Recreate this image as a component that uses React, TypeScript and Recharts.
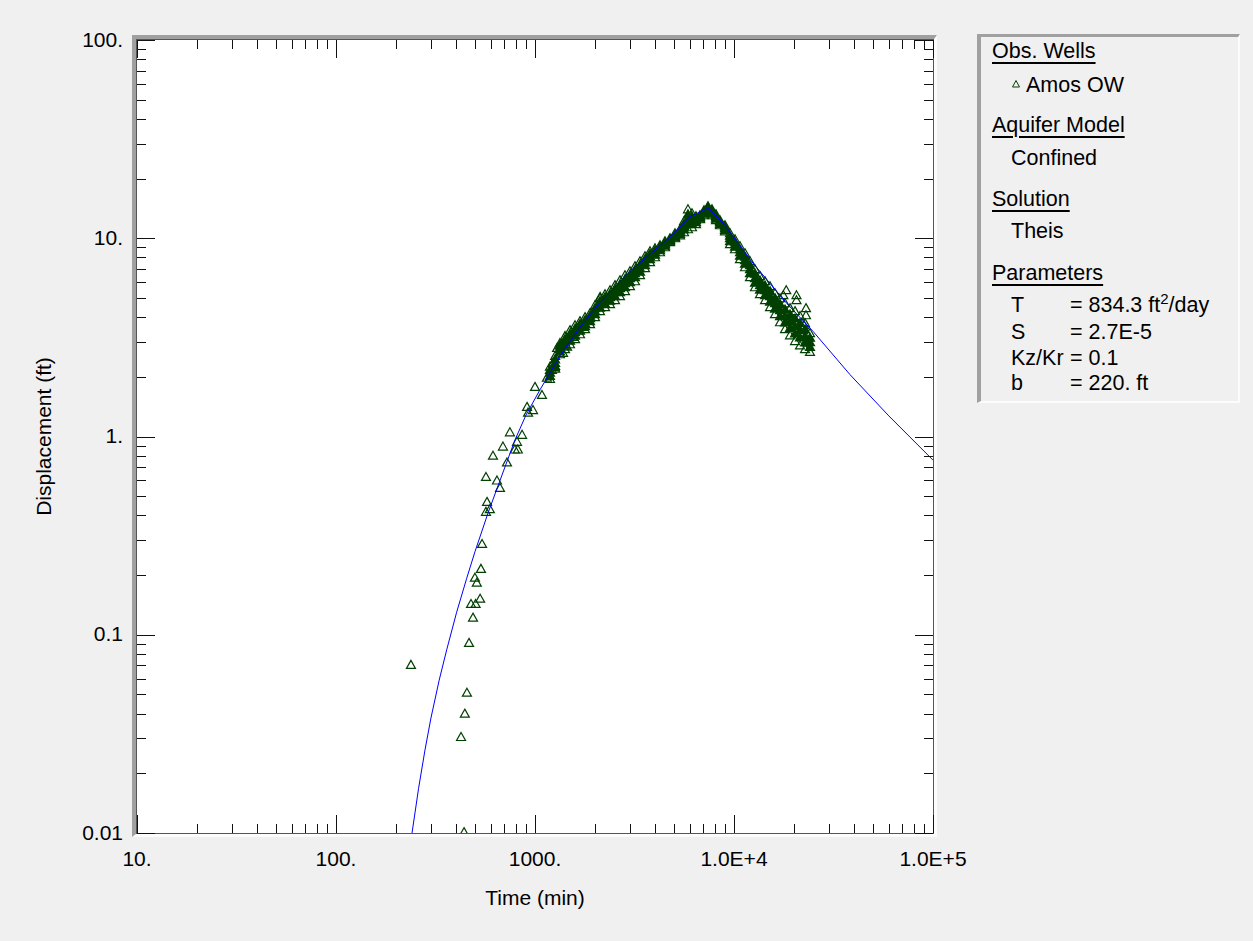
import React from 'react';
import { ScatterChart, Scatter, XAxis, YAxis } from 'recharts';

// axis ticks
const xMajorTicks = [10, 100, 1000, 10000, 100000];
const xTickLabels = ['10.', '100.', '1000.', '1.0E+4', '1.0E+5'];
const yMajorTicks = [0.01, 0.1, 1, 10, 100];
const yTickLabels = ['0.01', '0.1', '1.', '10.', '100.'];
const minorSteps = [2, 3, 4, 5, 6, 7, 8, 9];

// Amos OW - sparse early points (time min, displacement ft)
const earlyTime = [238, 425, 440, 444, 455, 466, 477, 488, 499, 503, 510, 530, 535, 542, 567, 574, 593, 567, 615, 644, 667, 690, 723, 748, 792, 812, 820, 861, 912, 923, 977, 1000, 1084, 1148, 1216, 1230, 1259, 1291, 1337, 1383, 1449, 1552, 1742, 2124];
const earlyDisp = [0.0705, 0.0305, 0.0101, 0.04, 0.051, 0.091, 0.143, 0.122, 0.194, 0.143, 0.183, 0.152, 0.215, 0.287, 0.417, 0.468, 0.43, 0.625, 0.8, 0.6, 0.55, 0.89, 0.74, 1.05, 0.86, 0.94, 0.86, 1.02, 1.41, 1.32, 1.36, 1.78, 1.62, 1.98, 2.17, 2.35, 2.24, 2.8, 2.9, 2.64, 2.84, 3.18, 3.57, 5.06];

// Amos OW - dense record, read across the band at each time
const bandTime = [1189, 1262, 1335, 1415, 1499, 1589, 1683, 1784, 1890, 2002, 2121, 2248, 2382, 2523, 2674, 2833, 3001, 3181, 3370, 3571, 3784, 4009, 4248, 4501, 4769, 5053, 5354, 5607, 5871, 6150, 6442, 6747, 7069, 7402, 7752, 8120, 8503, 9012, 9548, 10116, 10720, 11360, 12033, 12750, 13510, 14320, 15170, 16070, 17030, 18050, 19120, 20260, 21470, 22750, 24090];
const bandUpper = [2.25, 2.55, 2.96, 3.21, 3.44, 3.64, 3.82, 4.0, 4.19, 4.59, 4.98, 5.22, 5.47, 5.8, 6.14, 6.51, 6.82, 7.23, 7.66, 8.12, 8.6, 8.9, 9.22, 9.66, 10.0, 10.6, 11.1, 12.18, 14.0, 13.37, 12.91, 13.06, 13.84, 14.5, 14.0, 13.21, 12.33, 11.63, 10.6, 9.88, 9.11, 8.4, 7.66, 6.98, 6.44, 6.07, 5.73, 5.28, 4.98, 4.7, 4.44, 4.29, 4.05, 3.73, 3.32];
const bandUpperMid = [2.17, 2.45, 2.87, 3.1, 3.3, 3.5, 3.69, 3.86, 4.07, 4.44, 4.81, 5.04, 5.25, 5.57, 5.87, 6.22, 6.55, 6.94, 7.36, 7.84, 8.36, 8.7, 9.06, 9.49, 9.88, 10.41, 10.91, 11.84, 13.2, 12.85, 12.62, 12.91, 13.68, 14.33, 13.76, 12.98, 12.18, 11.43, 10.3, 9.6, 8.8, 8.07, 7.32, 6.63, 6.12, 5.77, 5.41, 4.99, 4.66, 4.37, 4.13, 3.94, 3.74, 3.47, 3.15];
const bandMiddle = [2.1, 2.35, 2.79, 2.99, 3.17, 3.36, 3.56, 3.73, 3.95, 4.29, 4.65, 4.87, 5.04, 5.35, 5.6, 5.93, 6.29, 6.66, 7.06, 7.57, 8.12, 8.5, 8.9, 9.33, 9.77, 10.23, 10.72, 11.5, 12.47, 12.33, 12.33, 12.76, 13.52, 14.17, 13.52, 12.76, 12.04, 11.23, 10.0, 9.33, 8.5, 7.75, 6.98, 6.29, 5.8, 5.47, 5.1, 4.7, 4.34, 4.05, 3.82, 3.6, 3.44, 3.21, 2.99];
const bandLowerMid = [2.02, 2.27, 2.69, 2.87, 3.04, 3.23, 3.42, 3.6, 3.82, 4.14, 4.47, 4.68, 4.84, 5.11, 5.35, 5.67, 6.01, 6.36, 6.78, 7.31, 7.84, 8.26, 8.7, 9.17, 9.66, 10.11, 10.53, 11.11, 11.78, 11.84, 12.05, 12.61, 13.29, 13.92, 13.29, 12.54, 11.83, 11.03, 9.66, 9.06, 8.17, 7.44, 6.67, 5.97, 5.51, 5.17, 4.79, 4.42, 4.05, 3.76, 3.53, 3.31, 3.16, 2.98, 2.83];
const bandLower = [1.95, 2.2, 2.6, 2.76, 2.92, 3.1, 3.28, 3.48, 3.69, 4.0, 4.29, 4.49, 4.65, 4.87, 5.1, 5.41, 5.73, 6.07, 6.51, 7.06, 7.57, 8.02, 8.5, 9.01, 9.55, 10.0, 10.35, 10.72, 11.1, 11.36, 11.77, 12.47, 13.06, 13.68, 13.06, 12.33, 11.63, 10.84, 9.33, 8.8, 7.85, 7.14, 6.36, 5.66, 5.22, 4.87, 4.49, 4.14, 3.77, 3.48, 3.24, 3.03, 2.88, 2.76, 2.67];

// late recovery points above the band
const spikeTime = [17700, 18300, 20600, 20600, 22500, 23000, 23000];
const spikeDisp = [5.16, 5.47, 5.16, 4.87, 3.64, 4.44, 4.09];

// Theis type curve
const curveTime = [241, 260, 280, 300, 330, 360, 404, 454, 499, 580, 667, 793, 900, 1059, 1337, 1700, 2121, 3119, 4592, 6012, 7420, 8831, 12470, 18400, 25030, 38300, 60000, 100000];
const curveDisp = [0.01, 0.0168, 0.0262, 0.038, 0.059, 0.084, 0.13, 0.193, 0.262, 0.41, 0.6, 0.96, 1.28, 1.72, 2.55, 3.6, 4.75, 7.06, 9.8, 12.85, 14.2, 11.9, 7.48, 4.7, 3.38, 2.05, 1.27, 0.76];

const font = '"Liberation Sans", Arial, sans-serif';
const obsColor = '#004000';

const obsEdgeData = [
  ...earlyTime.map((t, i) => ({ t, d: earlyDisp[i] })),
  ...bandTime.map((t, i) => ({ t, d: bandUpper[i] })),
  ...bandTime.map((t, i) => ({ t, d: bandLower[i] })),
  ...spikeTime.map((t, i) => ({ t, d: spikeDisp[i] })),
];
const obsCoreData = [
  ...bandTime.map((t, i) => ({ t, d: bandUpperMid[i] })),
  ...bandTime.map((t, i) => ({ t, d: bandMiddle[i] })),
  ...bandTime.map((t, i) => ({ t, d: bandLowerMid[i] })),
];
const curveData = curveTime.map((t, i) => ({ t, d: curveDisp[i] }));

const withMinors = (majors: number[]) => {
  const out: number[] = [];
  majors.forEach((m, i) => {
    out.push(m);
    if (i < majors.length - 1) minorSteps.forEach((s) => out.push(+(m * s).toPrecision(6)));
  });
  return out;
};
const xTicks = withMinors(xMajorTicks);
const yTicks = withMinors(yMajorTicks);

const triPoints = (cx: number, cy: number) => `${cx},${cy - 4.5} ${cx + 4.5},${cy + 3.5} ${cx - 4.5},${cy + 3.5}`;

const Triangle = (props: any) => {
  const { cx, cy } = props;
  if (cx == null || cy == null) return <g />;
  return <polygon points={triPoints(cx, cy)} fill="none" stroke={obsColor} strokeWidth={1.2} />;
};
const TriangleDense = (props: any) => {
  const { cx, cy } = props;
  if (cx == null || cy == null) return <g />;
  return <polygon points={triPoints(cx, cy)} fill={obsColor} stroke={obsColor} strokeWidth={1.2} />;
};
const NoShape = () => <g />;

const XTick = (props: any) => {
  const { x, y, payload, side } = props;
  const idx = xMajorTicks.indexOf(payload.value);
  const len = idx >= 0 ? 18 : 9;
  const dir = side === 'bottom' ? -1 : 1;
  const px = Math.round(x) + 0.5;
  return (
    <g>
      <line x1={px} y1={y} x2={px} y2={y + dir * len} stroke="#111" strokeWidth={1} />
      {side === 'bottom' && idx >= 0 && (
        <text x={x} y={y + 25} textAnchor="middle" dominantBaseline="central" fontFamily={font} fontSize={21} fill="#000">
          {xTickLabels[idx]}
        </text>
      )}
    </g>
  );
};

const YTick = (props: any) => {
  const { x, y, payload, side } = props;
  const idx = yMajorTicks.findIndex((v) => Math.abs(v - payload.value) < v * 1e-6);
  const len = idx >= 0 ? 18 : 9;
  const dir = side === 'left' ? 1 : -1;
  const py = Math.round(y) + 0.5;
  return (
    <g>
      <line x1={x} y1={py} x2={x + dir * len} y2={py} stroke="#111" strokeWidth={1} />
      {side === 'left' && idx >= 0 && (
        <text x={x - 14} y={y - 1} textAnchor="end" dominantBaseline="central" fontFamily={font} fontSize={21} fill="#000">
          {yTickLabels[idx]}
        </text>
      )}
    </g>
  );
};

const legendHead: React.CSSProperties = {
  position: 'absolute',
  left: 11,
  lineHeight: '24px',
  textDecoration: 'underline',
  textUnderlineOffset: '4px',
  whiteSpace: 'nowrap',
};
const legendItem: React.CSSProperties = { position: 'absolute', left: 30, lineHeight: '24px', whiteSpace: 'nowrap' };
const paramName: React.CSSProperties = { display: 'inline-block', width: 59 };

export default function App() {
  return (
    <div style={{ position: 'absolute', left: 0, top: 0, width: 1253, height: 941, background: '#f0f0f0', overflow: 'hidden' }}>
      {/* sunken plot frame */}
      <div
        style={{
          position: 'absolute',
          left: 132,
          top: 35,
          width: 798,
          height: 795,
          borderLeft: '4px solid #a0a0a0',
          borderTop: '4px solid #a0a0a0',
          borderRight: '3px solid #fcfcfc',
          borderBottom: '3px solid #fcfcfc',
        }}
      >
        <div style={{ width: 796, height: 793, border: '1px solid #555', background: '#fff' }} />
      </div>

      <div style={{ position: 'absolute', left: 0, top: 0 }}>
        <ScatterChart width={1253} height={941} margin={{ top: 39, right: 319, bottom: 8, left: 37 }}>
          <XAxis
            dataKey="t"
            type="number"
            scale="log"
            domain={[10, 100000]}
            allowDataOverflow
            ticks={xTicks}
            interval={0}
            height={100}
            tickSize={0}
            tickMargin={0}
            axisLine={false}
            tick={(p: any) => <XTick {...p} side="bottom" />}
            label={{
              content: (p: any) => {
                const vb = p.viewBox || {};
                return (
                  <text x={vb.x + vb.width / 2} y={vb.y + 64} textAnchor="middle" dominantBaseline="central" fontFamily={font} fontSize={21} fill="#000">
                    Time (min)
                  </text>
                );
              },
            }}
          />
          <XAxis
            xAxisId="top"
            orientation="top"
            dataKey="t"
            type="number"
            scale="log"
            domain={[10, 100000]}
            allowDataOverflow
            ticks={xTicks}
            interval={0}
            height={1}
            tickSize={0}
            tickMargin={0}
            axisLine={false}
            tick={(p: any) => <XTick {...p} side="top" />}
          />
          <YAxis
            dataKey="d"
            type="number"
            scale="log"
            domain={[0.01, 100]}
            allowDataOverflow
            ticks={yTicks}
            interval={0}
            width={100}
            tickSize={0}
            tickMargin={0}
            axisLine={false}
            tick={(p: any) => <YTick {...p} side="left" />}
            label={{
              content: (p: any) => {
                const vb = p.viewBox || {};
                const cx = vb.x + 6;
                const cy = vb.y + vb.height / 2;
                return (
                  <text x={cx} y={cy} transform={`rotate(-90 ${cx} ${cy})`} textAnchor="middle" dominantBaseline="central" fontFamily={font} fontSize={21} fill="#000">
                    Displacement (ft)
                  </text>
                );
              },
            }}
          />
          <YAxis
            yAxisId="right"
            orientation="right"
            dataKey="d"
            type="number"
            scale="log"
            domain={[0.01, 100]}
            allowDataOverflow
            ticks={yTicks}
            interval={0}
            width={1}
            tickSize={0}
            tickMargin={0}
            axisLine={false}
            tick={(p: any) => <YTick {...p} side="right" />}
          />
          <Scatter name="Amos OW" data={obsCoreData} shape={TriangleDense} isAnimationActive={false} />
          <Scatter name="Amos OW" data={obsEdgeData} shape={Triangle} isAnimationActive={false} />
          <Scatter
            name="Theis"
            data={curveData}
            xAxisId="top"
            yAxisId="right"
            shape={NoShape}
            line={{ stroke: '#0000ff', strokeWidth: 1 }}
            isAnimationActive={false}
          />
        </ScatterChart>
      </div>

      {/* legend panel */}
      <div
        style={{
          position: 'absolute',
          left: 977,
          top: 34,
          width: 263,
          height: 369,
          boxSizing: 'border-box',
          borderLeft: '4px solid #a0a0a0',
          borderTop: '3px solid #a0a0a0',
          borderRight: '2px solid #fcfcfc',
          borderBottom: '2px solid #fcfcfc',
          fontFamily: font,
          fontSize: 21.5,
          color: '#000',
        }}
      >
        <div style={{ ...legendHead, top: 1.5 }}>Obs. Wells</div>
        <div style={{ ...legendItem, top: 35.5 }}>
          <svg width={10} height={10} style={{ marginRight: 5, verticalAlign: 'middle', position: 'relative', top: -2 }}>
            <polygon points="5,1.5 8.5,8 1.5,8" fill="none" stroke={obsColor} strokeWidth={1} />
          </svg>
          Amos OW
        </div>
        <div style={{ ...legendHead, top: 75.5 }}>Aquifer Model</div>
        <div style={{ ...legendItem, top: 108.5 }}>Confined</div>
        <div style={{ ...legendHead, top: 149.5 }}>Solution</div>
        <div style={{ ...legendItem, top: 181.5 }}>Theis</div>
        <div style={{ ...legendHead, top: 223.5 }}>Parameters</div>
        <div style={{ ...legendItem, top: 255.5 }}>
          <span style={paramName}>T</span>= 834.3 ft
          <span style={{ fontSize: 15, position: 'relative', top: -8 }}>2</span>/day
        </div>
        <div style={{ ...legendItem, top: 282.5 }}>
          <span style={paramName}>S</span>= 2.7E-5
        </div>
        <div style={{ ...legendItem, top: 308.5 }}>
          <span style={paramName}>Kz/Kr</span>= 0.1
        </div>
        <div style={{ ...legendItem, top: 333.5 }}>
          <span style={paramName}>b</span>= 220. ft
        </div>
      </div>
    </div>
  );
}
